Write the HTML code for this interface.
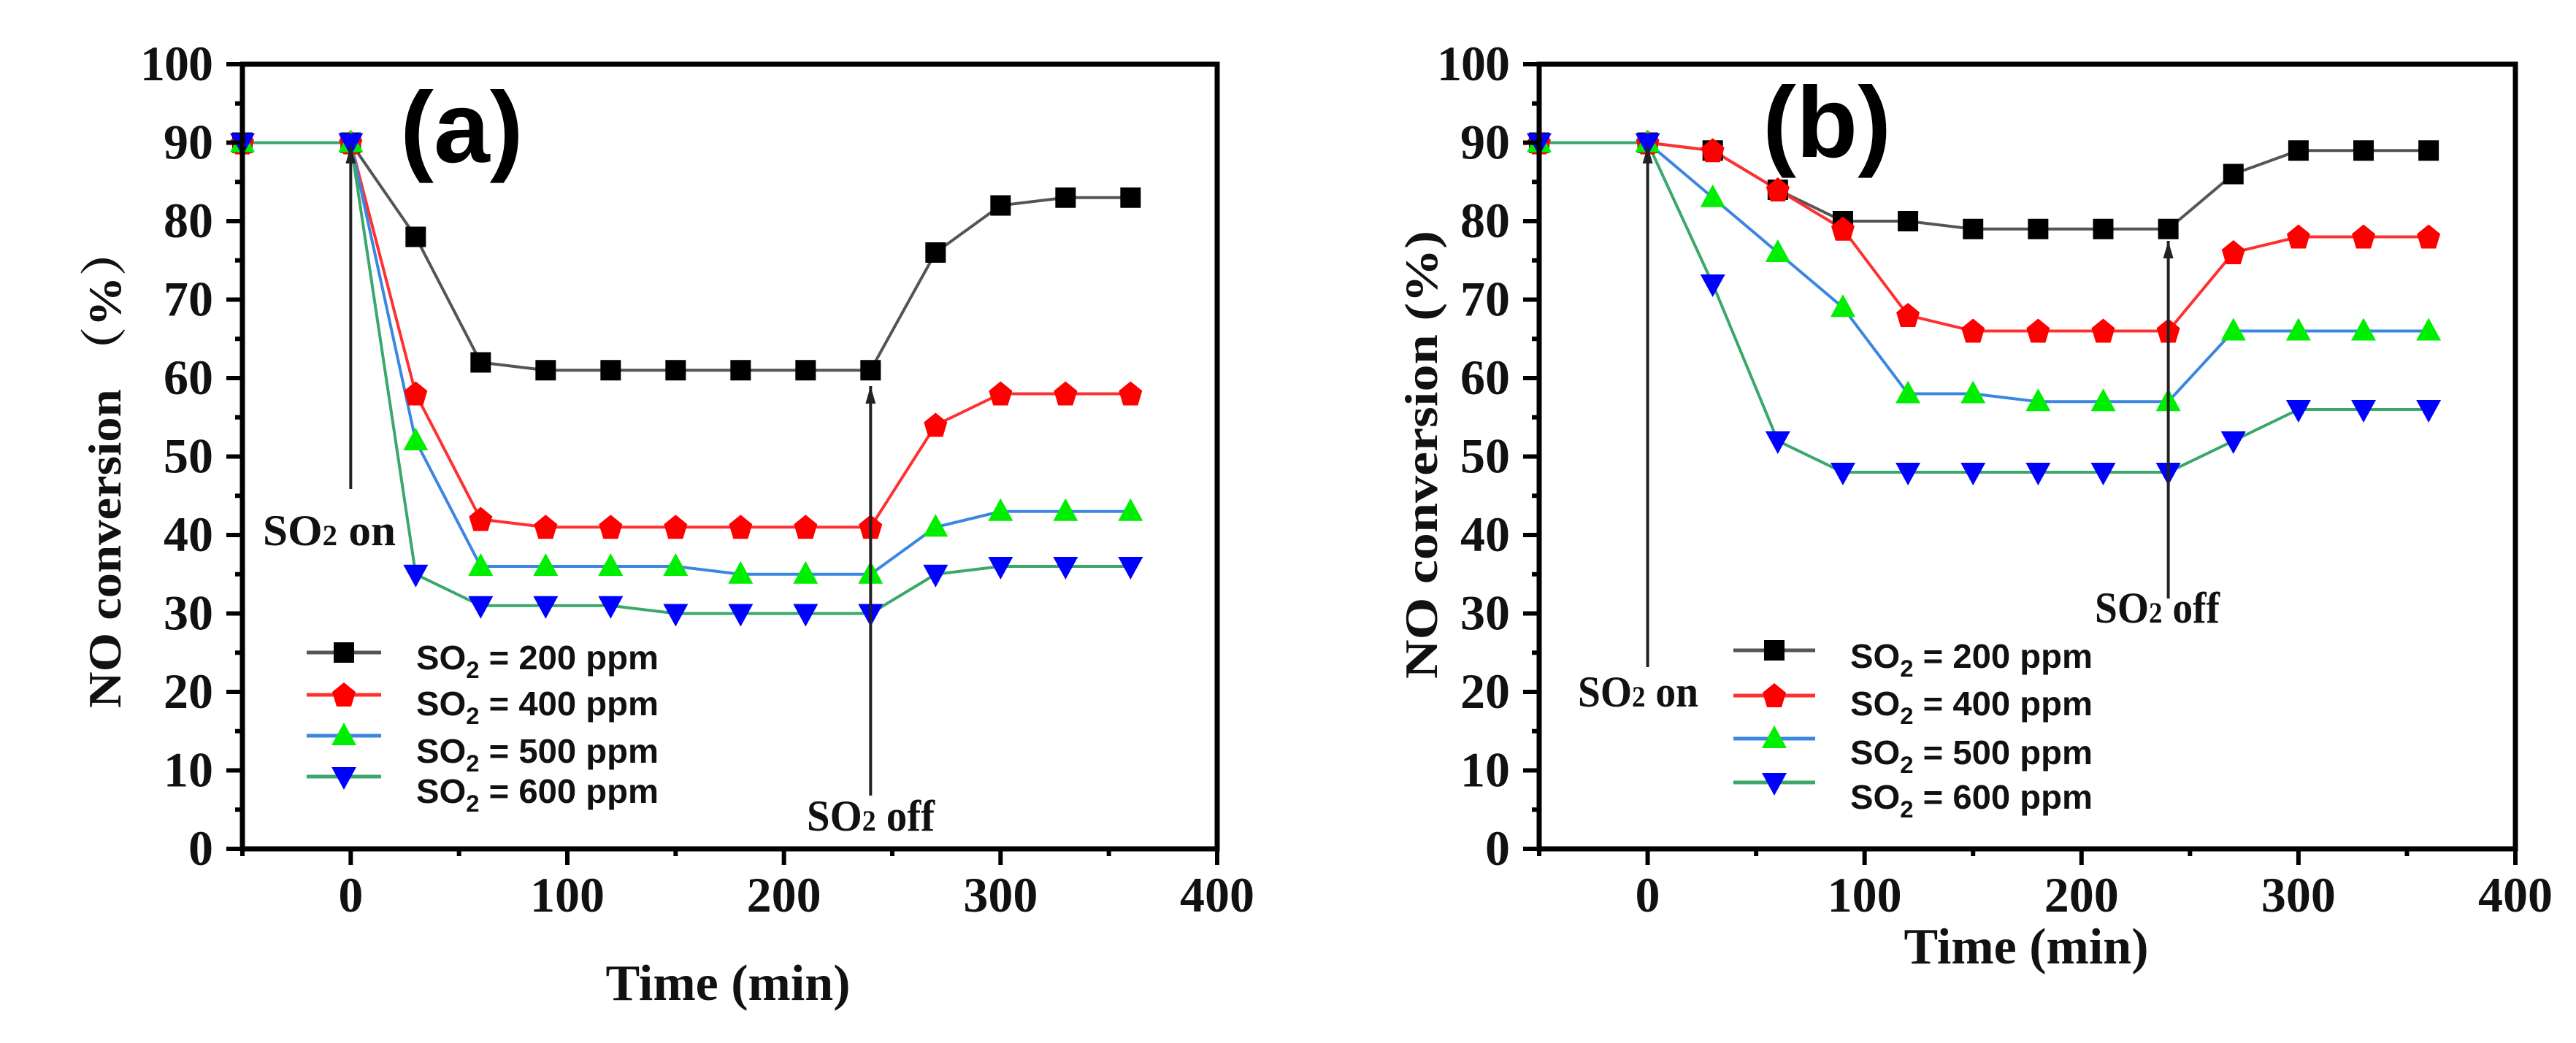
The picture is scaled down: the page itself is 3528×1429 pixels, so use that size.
<!DOCTYPE html>
<html><head><meta charset="utf-8"><style>
html,body{margin:0;padding:0;background:#fff;}
svg{display:block;}
</style></head><body>
<svg id="fig" width="3528" height="1429" viewBox="0 0 3528 1429" xmlns="http://www.w3.org/2000/svg"></svg>
<script>
const times = [-50,0,30,60,90,120,150,180,210,240,270,300,330,360];
const seriesLabels = ["200","400","500","600"];
const a200 = [90,90,78,62,61,61,61,61,61,61,76,82,83,83];
const a400 = [90,90,58,42,41,41,41,41,41,41,54,58,58,58];
const a500 = [90,90,52,36,36,36,36,35,35,35,41,43,43,43];
const a600 = [90,90,35,31,31,31,30,30,30,30,35,36,36,36];
const b200 = [90,90,89,84,80,80,79,79,79,79,86,89,89,89];
const b400 = [90,90,89,84,79,68,66,66,66,66,76,78,78,78];
const b500 = [90,90,83,76,69,58,58,57,57,57,66,66,66,66];
const b600 = [90,90,72,52,48,48,48,48,48,48,52,56,56,56];
const xTicks = [0,100,200,300,400];
const yTicks = [0,10,20,30,40,50,60,70,80,90,100];

const NS="http://www.w3.org/2000/svg";
const svg=document.getElementById('fig');
function mk(tag,attrs,parent){const e=document.createElementNS(NS,tag);for(const k in attrs)e.setAttribute(k,attrs[k]);(parent||svg).appendChild(e);return e;}

const lineCols=["#555555","#ff3030","#3a86e0","#3aa86a"];
const markCols=["#000000","#ff0000","#00ee00","#0000ff"];
const shapes=["square","circle","up","down"];

function marker(g,shape,cx,cy,col){
  let e;
  if(shape==="square"){e=mk('rect',{x:cx-14,y:cy-14,width:28,height:28,fill:col},g);}
  else if(shape==="circle"){e=mk('path',{d:`M${cx},${cy-17} L${cx+16},${cy-4} L${cx+10},${cy+16} L${cx-10},${cy+16} L${cx-16},${cy-4} Z`,fill:col},g);}
  else if(shape==="up"){e=mk('polygon',{points:`${cx},${cy-18} ${cx+17},${cy+13} ${cx-17},${cy+13}`,fill:col},g);}
  else {e=mk('polygon',{points:`${cx-17},${cy-13} ${cx+17},${cy-13} ${cx},${cy+18}`,fill:col},g);}
  return e;
}

function panel(p){
  const X=v=>p.x0+(v-(-50))*(p.x1-p.x0)/450;
  const Y=v=>p.y0-(v)*(p.y0-p.y1)/100;
  const g=mk('g',{});
  
  
  p.data.forEach((arr,si)=>{
    const pts=times.map((t,i)=>X(t)+','+Y(arr[i])).join(' ');
    const pl=mk('polyline',{points:pts,fill:'none',stroke:lineCols[si],'stroke-width':4},g);
    
    
  });
  p.data.forEach((arr,si)=>{
    times.forEach((t,i)=>{
      const m=marker(g,shapes[si],X(t),Y(arr[i]),markCols[si]);
      
      
    });
  });
  const box=mk('rect',{x:p.x0,y:p.y1,width:p.x1-p.x0,height:p.y0-p.y1,fill:'none',stroke:'#000','stroke-width':7},g);
  
  
  for(let v=0;v<=100;v+=5){
    const major=v%10===0;
    mk('line',{x1:p.x0,x2:p.x0-(major?22:10),y1:Y(v),y2:Y(v),stroke:'#000','stroke-width':6},g);
  }
  yTicks.forEach(v=>{
    const t=mk('text',{x:p.x0-40,y:Y(v)+22,'text-anchor':'end','font-family':'Liberation Serif, serif','font-weight':'bold','font-size':68,fill:'#111'},g);
    
    
    t.textContent=v;
    if(v===100) t.setAttribute('textLength',100);
  });
  for(let v=-50;v<=400;v+=50){
    const major=v%100===0;
    mk('line',{x1:X(v),x2:X(v),y1:p.y0,y2:p.y0+(major?22:10),stroke:'#000','stroke-width':6},g);
  }
  xTicks.forEach(v=>{
    const t=mk('text',{x:X(v),y:1249,'text-anchor':'middle','font-family':'Liberation Serif, serif','font-weight':'bold','font-size':68,fill:'#111'},g);
    
    
    t.textContent=v;
  });
  const xt=mk('text',{x:p.xtx,y:p.xty,'text-anchor':'middle','font-family':'Liberation Serif, serif','font-weight':'bold','font-size':70,fill:'#111'},g);
  
  
  xt.textContent='Time (min)';
  const yt=mk('text',{x:0,y:0,'text-anchor':'middle','font-family':'Liberation Serif, "Noto Serif CJK SC", serif','font-weight':'bold','font-size':64,fill:'#111',transform:`translate(${p.ytx},${p.yty}) rotate(-90)`,textLength:p.ytl,lengthAdjust:'spacingAndGlyphs'},g);
  
  
  yt.textContent=p.ytitle;
  const pl=mk('text',{x:p.lx,y:p.ly,'font-family':'Liberation Sans, sans-serif','font-weight':'bold','font-size':138,fill:'#000'},g);
  
  
  pl.textContent=p.label;
  mk('line',{x1:X(0),x2:X(0),y1:p.onTop,y2:p.onBot,stroke:'#222','stroke-width':4},g);
  mk('polygon',{points:`${X(0)},${p.onTop} ${X(0)-7},${p.onTop+24} ${X(0)+7},${p.onTop+24}`,fill:'#222'},g);
  const on=mk('text',{x:p.onx,y:p.ony,'font-family':'Liberation Serif, serif','font-weight':'bold','font-size':60,fill:'#111',textLength:p.onw,lengthAdjust:'spacingAndGlyphs'},g);
  
  
  on.innerHTML='SO<tspan font-size="40">2</tspan> on';
  mk('line',{x1:X(240),x2:X(240),y1:p.offTop,y2:p.offBot,stroke:'#222','stroke-width':4},g);
  mk('polygon',{points:`${X(240)},${p.offTop} ${X(240)-7},${p.offTop+24} ${X(240)+7},${p.offTop+24}`,fill:'#222'},g);
  const off=mk('text',{x:p.offx,y:p.offy,'font-family':'Liberation Serif, serif','font-weight':'bold','font-size':60,fill:'#111',textLength:p.offw,lengthAdjust:'spacingAndGlyphs'},g);
  
  
  off.innerHTML='SO<tspan font-size="40">2</tspan> off';
  const lg=mk('g',{},g);
  
  
  seriesLabels.forEach((s,i)=>{
    const e=mk('g',{},lg);
    
    
    const ly=p.legLines[i];
    mk('line',{x1:p.legX0,x2:p.legX1,y1:ly,y2:ly,stroke:lineCols[i],'stroke-width':5},e);
    marker(e,shapes[i],(p.legX0+p.legX1)/2,ly,markCols[i]);
    const t=mk('text',{x:p.legTx,y:p.legText[i]+16,'font-family':'Liberation Sans, sans-serif','font-weight':'bold','font-size':46,fill:'#111',textLength:332,lengthAdjust:'spacingAndGlyphs'},e);
    t.innerHTML='SO<tspan font-size="32" dy="12">2</tspan><tspan dy="-12"> = '+s+' ppm</tspan>';
  });
}

panel({name:'panel-a',x0:332,x1:1667,y0:1163,y1:88,data:[a200,a400,a500,a600],
  xtx:997,xty:1370,ytx:165,yty:640,ytl:660,ytitle:'NO conversion （%）',label:'(a)',lx:548,ly:222,
  onTop:200,onBot:670,onx:360,ony:747,onw:182,offTop:529,offBot:1090,offx:1105,offy:1138,offw:175,
  legX0:420,legX1:522,legLines:[894,952,1008,1064],legTx:570,legText:[901,964,1029,1084]});
panel({name:'panel-b',x0:2108,x1:3445,y0:1163,y1:88,data:[b200,b400,b500,b600],
  xtx:2775,xty:1320,ytx:1968,yty:623,ytl:614,ytitle:'NO conversion (%)',label:'(b)',lx:2414,ly:215,
  onTop:200,onBot:914,onx:2161,ony:968,onw:165,offTop:330,offBot:820,offx:2869,offy:853,offw:171,
  legX0:2374,legX1:2486,legLines:[891,953,1012,1072],legTx:2534,legText:[899,964,1031,1092]});
</script>
</body></html>
